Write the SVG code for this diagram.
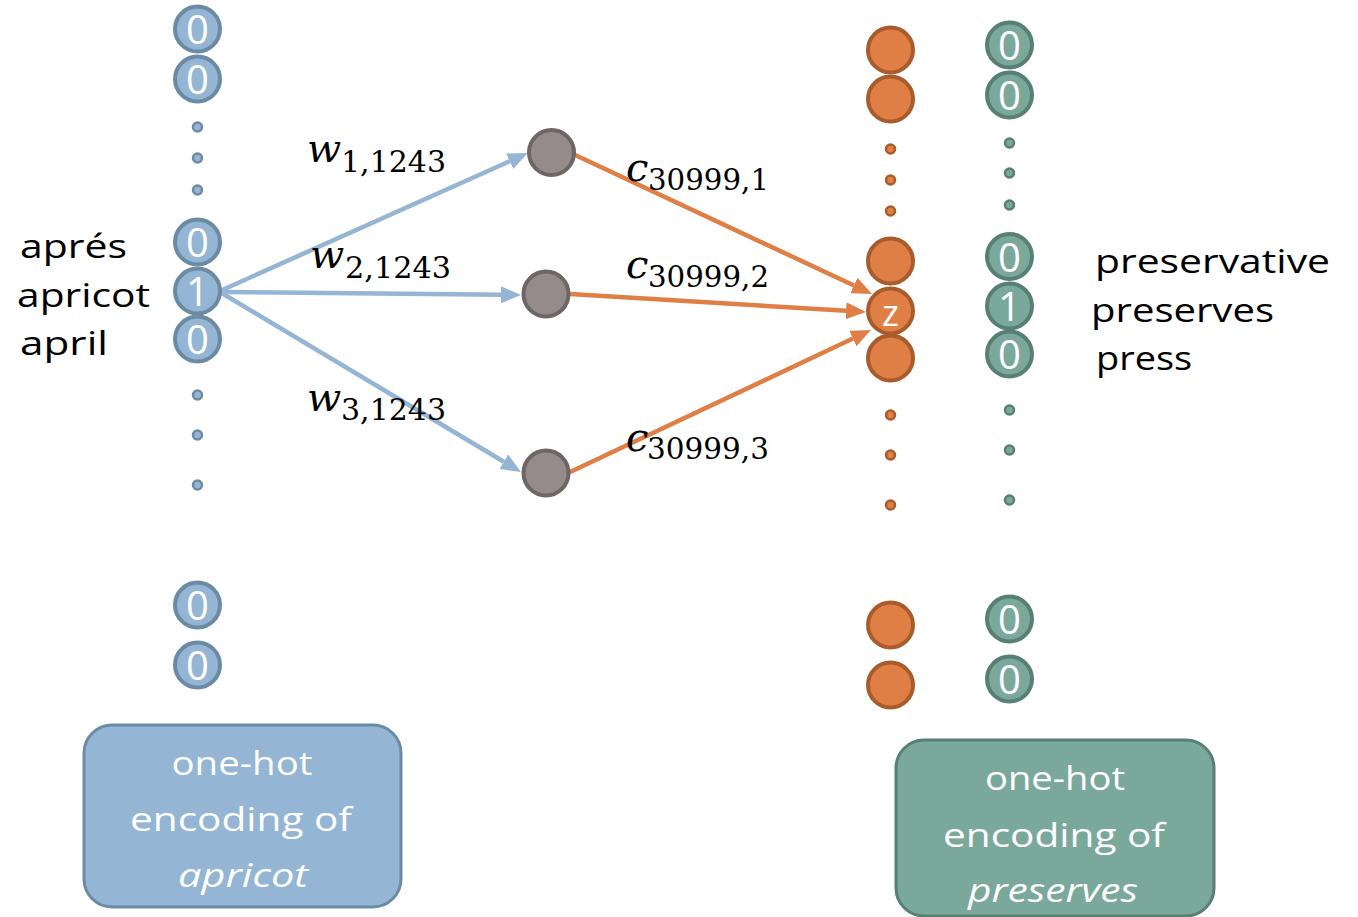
<svg xmlns="http://www.w3.org/2000/svg" width="1358" height="917" viewBox="0 0 1358 917">
  <style>
    .bl { fill: #94b5d3; stroke: #6b8ba4; stroke-width: 4; }
    .or { fill: #e07f45; stroke: #a85c2c; stroke-width: 4; }
    .gr { fill: #7aa99c; stroke: #587f74; stroke-width: 4; }
    .gy { fill: #968b8b; stroke: #6e6565; stroke-width: 4; }
    .bld { fill: #94b5d3; stroke: #6b8ba4; stroke-width: 2.5; }
    .ord { fill: #e07f45; stroke: #a85c2c; stroke-width: 2.5; }
    .grd { fill: #7aa99c; stroke: #587f74; stroke-width: 2.5; }
    .dg { font-family: "Open Sans", "DejaVu Sans", sans-serif; font-size: 40px; fill: #ffffff; text-anchor: middle; }
    .word { font-family: "Open Sans", "DejaVu Sans", sans-serif; font-size: 33px; fill: #000000; }
    .box { font-family: "Open Sans", "DejaVu Sans", sans-serif; font-size: 33px; fill: #ffffff; text-anchor: middle; }
    .mv { font-family: "DejaVu Serif", "Liberation Serif", serif; font-style: italic; font-size: 40px; fill: #000000; }
    .ms { font-family: "DejaVu Serif", "Liberation Serif", serif; font-size: 30px; fill: #000000; }
    .lb { stroke: #94b5d3; stroke-width: 4.5; fill: none; }
    .lo { stroke: #e07f45; stroke-width: 4.5; fill: none; }
  </style>
  <defs>
    <marker id="ahb" markerUnits="userSpaceOnUse" markerWidth="20" markerHeight="17" refX="0" refY="8.5" orient="auto">
      <path d="M0,0 L20,8.5 L0,17 z" fill="#94b5d3"/>
    </marker>
    <marker id="aho" markerUnits="userSpaceOnUse" markerWidth="20" markerHeight="17" refX="0" refY="8.5" orient="auto">
      <path d="M0,0 L20,8.5 L0,17 z" fill="#e07f45"/>
    </marker>
  </defs>
  <rect width="1358" height="917" fill="#ffffff"/>

  <!-- weighted connections -->
  <g id="connectors">
    <line class="lb" x1="220" y1="291" x2="509.7" y2="161.2" marker-end="url(#ahb)"/>
    <line class="lb" x1="220" y1="292" x2="501" y2="294.8" marker-end="url(#ahb)"/>
    <line class="lb" x1="220" y1="292" x2="503.8" y2="461.7" marker-end="url(#ahb)"/>
    <line class="lo" x1="573" y1="154" x2="853.9" y2="285.5" marker-end="url(#aho)"/>
    <line class="lo" x1="570" y1="294" x2="846" y2="310.8" marker-end="url(#aho)"/>
    <line class="lo" x1="568" y1="473" x2="852.9" y2="338.5" marker-end="url(#aho)"/>

    <text class="mv" x="307" y="162">w</text><text class="ms" x="341" y="172" textLength="105" lengthAdjust="spacingAndGlyphs">1,1243</text>
    <text class="mv" x="310" y="268">w</text><text class="ms" x="345" y="278" textLength="106" lengthAdjust="spacingAndGlyphs">2,1243</text>
    <text class="mv" x="307" y="411">w</text><text class="ms" x="341" y="420" textLength="105" lengthAdjust="spacingAndGlyphs">3,1243</text>
    <text class="mv" x="626" y="181">c</text><text class="ms" x="648" y="190" textLength="121" lengthAdjust="spacingAndGlyphs">30999,1</text>
    <text class="mv" x="626" y="278">c</text><text class="ms" x="648" y="287" textLength="121" lengthAdjust="spacingAndGlyphs">30999,2</text>
    <text class="mv" x="626" y="451">c</text><text class="ms" x="647" y="459" textLength="122" lengthAdjust="spacingAndGlyphs">30999,3</text>
  </g>

  <!-- input one-hot vector -->
  <g id="input-vector">
    <circle class="bl" cx="197.5" cy="29" r="22.5"/><text class="dg" x="197.5" y="44">0</text>
    <circle class="bl" cx="197.5" cy="79" r="22.5"/><text class="dg" x="197.5" y="94">0</text>
    <circle class="bld" cx="197.5" cy="127" r="4.5"/>
    <circle class="bld" cx="197.5" cy="158" r="4.5"/>
    <circle class="bld" cx="197.5" cy="190" r="4.5"/>
    <circle class="bl" cx="197.5" cy="242" r="22.5"/><text class="dg" x="197.5" y="257">0</text>
    <circle class="bl" cx="197.5" cy="291" r="22.5"/><text class="dg" x="197.5" y="306">1</text>
    <circle class="bl" cx="197.5" cy="339" r="22.5"/><text class="dg" x="197.5" y="354">0</text>
    <circle class="bld" cx="197.5" cy="395" r="4.5"/>
    <circle class="bld" cx="197.5" cy="435" r="4.5"/>
    <circle class="bld" cx="197.5" cy="485" r="4.5"/>
    <circle class="bl" cx="197.5" cy="605" r="22.5"/><text class="dg" x="197.5" y="620">0</text>
    <circle class="bl" cx="197.5" cy="665" r="22.5"/><text class="dg" x="197.5" y="680">0</text>
  </g>

  <g id="input-words">
    <text class="word" x="20" y="258" textLength="107" lengthAdjust="spacingAndGlyphs">aprés</text>
    <text class="word" x="17" y="307" textLength="133" lengthAdjust="spacingAndGlyphs">apricot</text>
    <text class="word" x="20" y="355" textLength="88" lengthAdjust="spacingAndGlyphs">april</text>
  </g>

  <!-- hidden layer -->
  <g id="hidden-1"><circle class="gy" cx="551.5" cy="152.5" r="22.5"/></g>
  <g id="hidden-2"><circle class="gy" cx="546" cy="294" r="22.5"/></g>
  <g id="hidden-3"><circle class="gy" cx="546" cy="473" r="22.5"/></g>

  <!-- output layer -->
  <g id="output-vector">
    <circle class="or" cx="890.5" cy="50" r="22.5"/>
    <circle class="or" cx="890.5" cy="99" r="22.5"/>
    <circle class="ord" cx="890.5" cy="149" r="4.5"/>
    <circle class="ord" cx="890.5" cy="180" r="4.5"/>
    <circle class="ord" cx="890.5" cy="211" r="4.5"/>
    <circle class="or" cx="890.5" cy="261" r="22.5"/>
    <circle class="or" cx="890.5" cy="311" r="22.5"/>
    <text x="890.5" y="326" text-anchor="middle" font-family="Open Sans, DejaVu Sans, sans-serif" font-size="36" fill="#ffffff">z</text>
    <circle class="or" cx="890.5" cy="358" r="22.5"/>
    <circle class="ord" cx="890.5" cy="415" r="4.5"/>
    <circle class="ord" cx="890.5" cy="455" r="4.5"/>
    <circle class="ord" cx="890.5" cy="505" r="4.5"/>
    <circle class="or" cx="890.5" cy="625" r="22.5"/>
    <circle class="or" cx="890.5" cy="685" r="22.5"/>
  </g>

  <!-- target one-hot vector -->
  <g id="target-vector">
    <circle class="gr" cx="1009.5" cy="45" r="22.5"/><text class="dg" x="1009.5" y="60">0</text>
    <circle class="gr" cx="1009.5" cy="95" r="22.5"/><text class="dg" x="1009.5" y="110">0</text>
    <circle class="grd" cx="1009.5" cy="143" r="4.5"/>
    <circle class="grd" cx="1009.5" cy="173" r="4.5"/>
    <circle class="grd" cx="1009.5" cy="205" r="4.5"/>
    <circle class="gr" cx="1009.5" cy="256.5" r="22.5"/><text class="dg" x="1009.5" y="271.5">0</text>
    <circle class="gr" cx="1009.5" cy="306" r="22.5"/><text class="dg" x="1009.5" y="321">1</text>
    <circle class="gr" cx="1009.5" cy="354" r="22.5"/><text class="dg" x="1009.5" y="369">0</text>
    <circle class="grd" cx="1009.5" cy="410" r="4.5"/>
    <circle class="grd" cx="1009.5" cy="450" r="4.5"/>
    <circle class="grd" cx="1009.5" cy="500" r="4.5"/>
    <circle class="gr" cx="1009.5" cy="619" r="22.5"/><text class="dg" x="1009.5" y="634">0</text>
    <circle class="gr" cx="1009.5" cy="679" r="22.5"/><text class="dg" x="1009.5" y="694">0</text>
  </g>

  <g id="target-words">
    <text class="word" x="1095" y="273" textLength="235" lengthAdjust="spacingAndGlyphs">preservative</text>
    <text class="word" x="1091" y="322" textLength="183" lengthAdjust="spacingAndGlyphs">preserves</text>
    <text class="word" x="1096" y="370" textLength="96" lengthAdjust="spacingAndGlyphs">press</text>
  </g>

  <!-- caption boxes -->
  <g id="input-caption">
    <rect x="84" y="725" width="317" height="182" rx="28" fill="#94b5d3" stroke="#6b8ba4" stroke-width="3"/>
    <text class="box" x="242" y="775" textLength="141" lengthAdjust="spacingAndGlyphs">one-hot</text>
    <text class="box" x="241" y="831" textLength="222" lengthAdjust="spacingAndGlyphs">encoding of</text>
    <text class="box" x="243" y="887" font-style="italic" textLength="130" lengthAdjust="spacingAndGlyphs">apricot</text>
  </g>
  <g id="target-caption">
    <rect x="896" y="740" width="318" height="176" rx="28" fill="#7aa99c" stroke="#587f74" stroke-width="3"/>
    <text class="box" x="1055" y="790" textLength="140" lengthAdjust="spacingAndGlyphs">one-hot</text>
    <text class="box" x="1054" y="847" textLength="222" lengthAdjust="spacingAndGlyphs">encoding of</text>
    <text class="box" x="1053" y="902" font-style="italic" textLength="170" lengthAdjust="spacingAndGlyphs">preserves</text>
  </g>
</svg>
